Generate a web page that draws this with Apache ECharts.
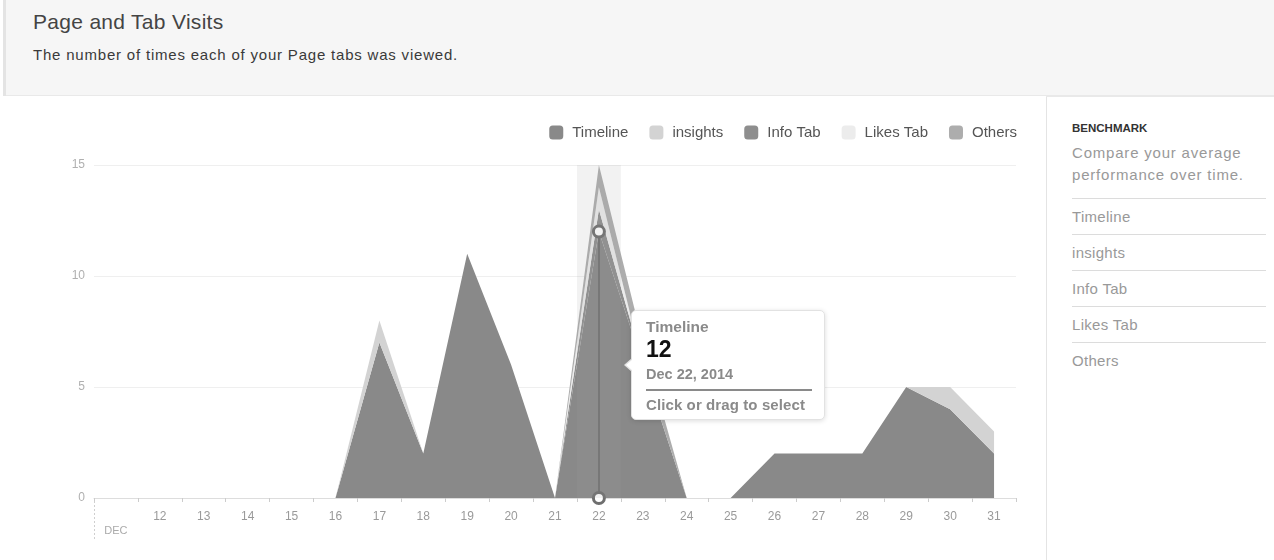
<!DOCTYPE html>
<html>
<head>
<meta charset="utf-8">
<script src="https://cdn.jsdelivr.net/npm/echarts@6/dist/echarts.min.js"></script>
<style>
  html, body { margin: 0; padding: 0; background: #fff; }
  body { width: 1274px; height: 560px; position: relative; overflow: hidden;
         font-family: "Liberation Sans", Arial, Helvetica, sans-serif; }
  #panel { position: absolute; left: 3px; top: 0; width: 1271px; height: 560px;
           border-left: 3px solid #e4e4e4; box-sizing: border-box; }
  #head { position: absolute; left: 0; top: 0; right: 0; height: 95px;
          background: #f6f6f6; border-bottom: 2px solid #e9e9e9; }
  #head h1 { position: absolute; left: 27px; top: 10px; margin: 0;
             font-size: 21px; font-weight: normal; color: #444; letter-spacing: 0.3px; }
  #head p { position: absolute; left: 27px; top: 46px; margin: 0;
            font-size: 15px; color: #3a3a3a; letter-spacing: 0.8px; }
  #side { position: absolute; left: 1040px; top: 97px; bottom: 0; right: 0;
          border-left: 1px solid #e4e4e4; }
  #side .bm { position: absolute; left: 25px; top: 25px; font-size: 11.5px; font-weight: bold; color: #333; }
  #side .desc { position: absolute; left: 25px; top: 45px; font-size: 15px; line-height: 22px; color: #999; letter-spacing: 0.8px; }
  #side ul { position: absolute; left: 25px; top: 101px; width: 194px; margin: 0; padding: 0; list-style: none; }
  #side li { border-top: 1px solid #dcdcdc; height: 35px; line-height: 35px; font-size: 15px; color: #999; letter-spacing: 0.3px; }
  #chart { position: absolute; left: 0; top: 96px; width: 1046px; height: 464px; }
</style>
</head>
<body>
<div id="panel">
  <div id="head">
    <h1>Page and Tab Visits</h1>
    <p>The number of times each of your Page tabs was viewed.</p>
  </div>
  <div id="side">
    <div class="bm">BENCHMARK</div>
    <div class="desc">Compare your average<br>performance over time.</div>
    <ul>
      <li>Timeline</li>
      <li>insights</li>
      <li>Info Tab</li>
      <li>Likes Tab</li>
      <li>Others</li>
    </ul>
  </div>
</div>
<div id="chart"></div>
<script>
// December days shown on the axis
const days = ['11','12','13','14','15','16','17','18','19','20','21','22','23','24','25','26','27','28','29','30','31'];
const monthLabel = 'DEC';
const year = 2014;

// Daily visits per tab (stacked)
const timeline = [0,0,0,0,0,0,7,2,11,6,0,12,6,0,0,2,2,2,5,4,2];
const insights = [0,0,0,0,0,0,1,0,0,0,0,0,0,0,0,0,0,0,0,1,1];
const infoTab  = [0,0,0,0,0,0,0,0,0,0,0,1,0,0,0,0,0,0,0,0,0];
const likesTab = [0,0,0,0,0,0,0,0,0,0,0,1,0,0,0,0,0,0,0,0,0];
const others   = [0,0,0,0,0,0,0,0,0,0,0,1,1,0,0,0,0,0,0,0,0];

const yTicks = [0, 5, 10, 15];
const focusDay = '22';

const seriesNames = ['Timeline', 'insights', 'Info Tab', 'Likes Tab', 'Others'];
const seriesData = [timeline, insights, infoTab, likesTab, others];
const seriesColors = ['#898989', '#d3d3d3', '#8e8e8e', '#ececec', '#adadad'];

const GRID = { left: 94, right: 30, top: 69, bottom: 62 };
const font = '"Liberation Sans", Arial, Helvetica, sans-serif';

const chart = echarts.init(document.getElementById('chart'), null, { renderer: 'canvas' });

const focusIndex = days.indexOf(focusDay);

const series = seriesNames.map((name, i) => ({
  name: name,
  type: 'line',
  stack: 'visits',
  data: seriesData[i],
  symbol: 'none',
  showSymbol: false,
  lineStyle: { width: 0, opacity: 0 },
  itemStyle: { color: seriesColors[i] },
  areaStyle: { color: seriesColors[i], opacity: 1 },
  emphasis: { disabled: true },
  z: 2
}));

// Hover marker: vertical guide from the Timeline value down to the axis
series[0].markLine = {
  silent: true,
  symbol: ['none', 'none'],
  animation: false,
  label: { show: false },
  lineStyle: { color: '#707070', width: 2, type: 'solid' },
  data: [[{ coord: [focusDay, 0] }, { coord: [focusDay, timeline[focusIndex]] }]]
};
series[0].markPoint = {
  silent: true,
  animation: false,
  symbol: 'circle',
  symbolSize: 11,
  label: { show: false },
  itemStyle: { color: '#ffffff', borderColor: '#6e6e6e', borderWidth: 3 },
  data: [{ coord: [focusDay, timeline[focusIndex]] }, { coord: [focusDay, 0] }]
};

function tipHtml(name, value, day) {
  return '<div style="position:relative;width:166px;padding:8px 12px 3px 14px;font-family:' + font.replace(/"/g, "'") + ';">' +
    '<div style="position:absolute;left:-8px;top:47px;width:0;height:0;border-top:7px solid transparent;border-bottom:7px solid transparent;border-right:8px solid #e2e2e2;"></div>' +
    '<div style="position:absolute;left:-6px;top:48px;width:0;height:0;border-top:6px solid transparent;border-bottom:6px solid transparent;border-right:7px solid #fff;"></div>' +
    '<div style="font-size:15.5px;line-height:16px;font-weight:bold;color:#8a8a8a;">' + name + '</div>' +
    '<div style="font-size:23px;line-height:28px;font-weight:bold;color:#111;">' + value + '</div>' +
    '<div style="font-size:14.5px;line-height:22px;font-weight:bold;color:#8a8a8a;">Dec ' + day + ', ' + year + '</div>' +
    '<div style="margin-top:4px;border-top:2px solid #8a8a8a;"></div>' +
    '<div style="margin-top:3px;font-size:15px;line-height:22px;font-weight:bold;color:#8a8a8a;white-space:nowrap;letter-spacing:0.1px;">Click or drag to select</div>' +
    '</div>';
}

chart.setOption({
  animation: false,
  backgroundColor: '#ffffff',
  textStyle: { fontFamily: font },
  legend: {
    data: seriesNames,
    right: 24,
    top: 24,
    itemWidth: 14,
    itemHeight: 14,
    itemGap: 21,
    icon: 'roundRect',
    selectedMode: false,
    textStyle: { fontSize: 15, color: '#555', fontFamily: font, padding: [0, 0, 0, 4] }
  },
  grid: GRID,
  tooltip: {
    trigger: 'axis',
    alwaysShowContent: true,
    showDelay: 0,
    hideDelay: 0,
    transitionDuration: 0,
    enterable: false,
    padding: 0,
    backgroundColor: '#ffffff',
    borderColor: '#e2e2e2',
    borderWidth: 1,
    borderRadius: 5,
    extraCssText: 'box-shadow:0 1px 5px rgba(0,0,0,0.14);overflow:visible;',
    axisPointer: {
      type: 'shadow',
      shadowStyle: { color: 'rgba(160,160,160,0.14)' }
    },
    formatter: function (params) {
      const p = params[0];
      return tipHtml(p.seriesName, p.value, p.name);
    },
    position: function (point, params, dom, rect, size) {
      const top = chart.convertToPixel({ gridIndex: 0 }, [focusDay, timeline[focusIndex]]);
      const base = chart.convertToPixel({ gridIndex: 0 }, [focusDay, 0]);
      const midY = (top[1] + base[1]) / 2;
      return [top[0] + 32, midY - size.contentSize[1] / 2];
    }
  },
  xAxis: {
    type: 'category',
    data: days,
    boundaryGap: true,
    axisLine: { lineStyle: { color: '#dddddd', width: 1 } },
    axisTick: { show: true, interval: 0, length: 4, lineStyle: { color: '#cccccc' } },
    axisLabel: {
      interval: 0,
      margin: 12,
      fontSize: 12,
      lineHeight: 14,
      color: '#9a9a9a',
      fontFamily: font,
      formatter: function (v, i) { return i === 0 ? '{dec|' + monthLabel + '}' : v; },
      rich: { dec: { fontSize: 11, color: '#aaaaaa', padding: [28, 0, 0, 0], fontFamily: font } }
    },
    splitLine: { show: false }
  },
  yAxis: {
    type: 'value',
    min: yTicks[0],
    max: yTicks[yTicks.length - 1],
    interval: yTicks[1] - yTicks[0],
    axisLine: { show: false },
    axisTick: { show: false },
    axisLabel: { margin: 9, fontSize: 12, color: '#b0b0b0', fontFamily: font },
    splitLine: { lineStyle: { color: '#efefef', width: 1 } }
  },
  series: series
});

// Month divider at the start of the axis
const origin = chart.convertToPixel({ gridIndex: 0 }, [0, 0]);
const startX = GRID.left;
chart.setOption({
  graphic: [{
    type: 'line',
    silent: true,
    shape: { x1: startX + 0.5, y1: origin[1] + 3, x2: startX + 0.5, y2: origin[1] + 42 },
    style: { stroke: '#cfcfcf', lineWidth: 1, lineDash: [2, 2] },
    z: 5
  }]
});

chart.dispatchAction({ type: 'showTip', seriesIndex: 0, dataIndex: focusIndex });
</script>
</body>
</html>
